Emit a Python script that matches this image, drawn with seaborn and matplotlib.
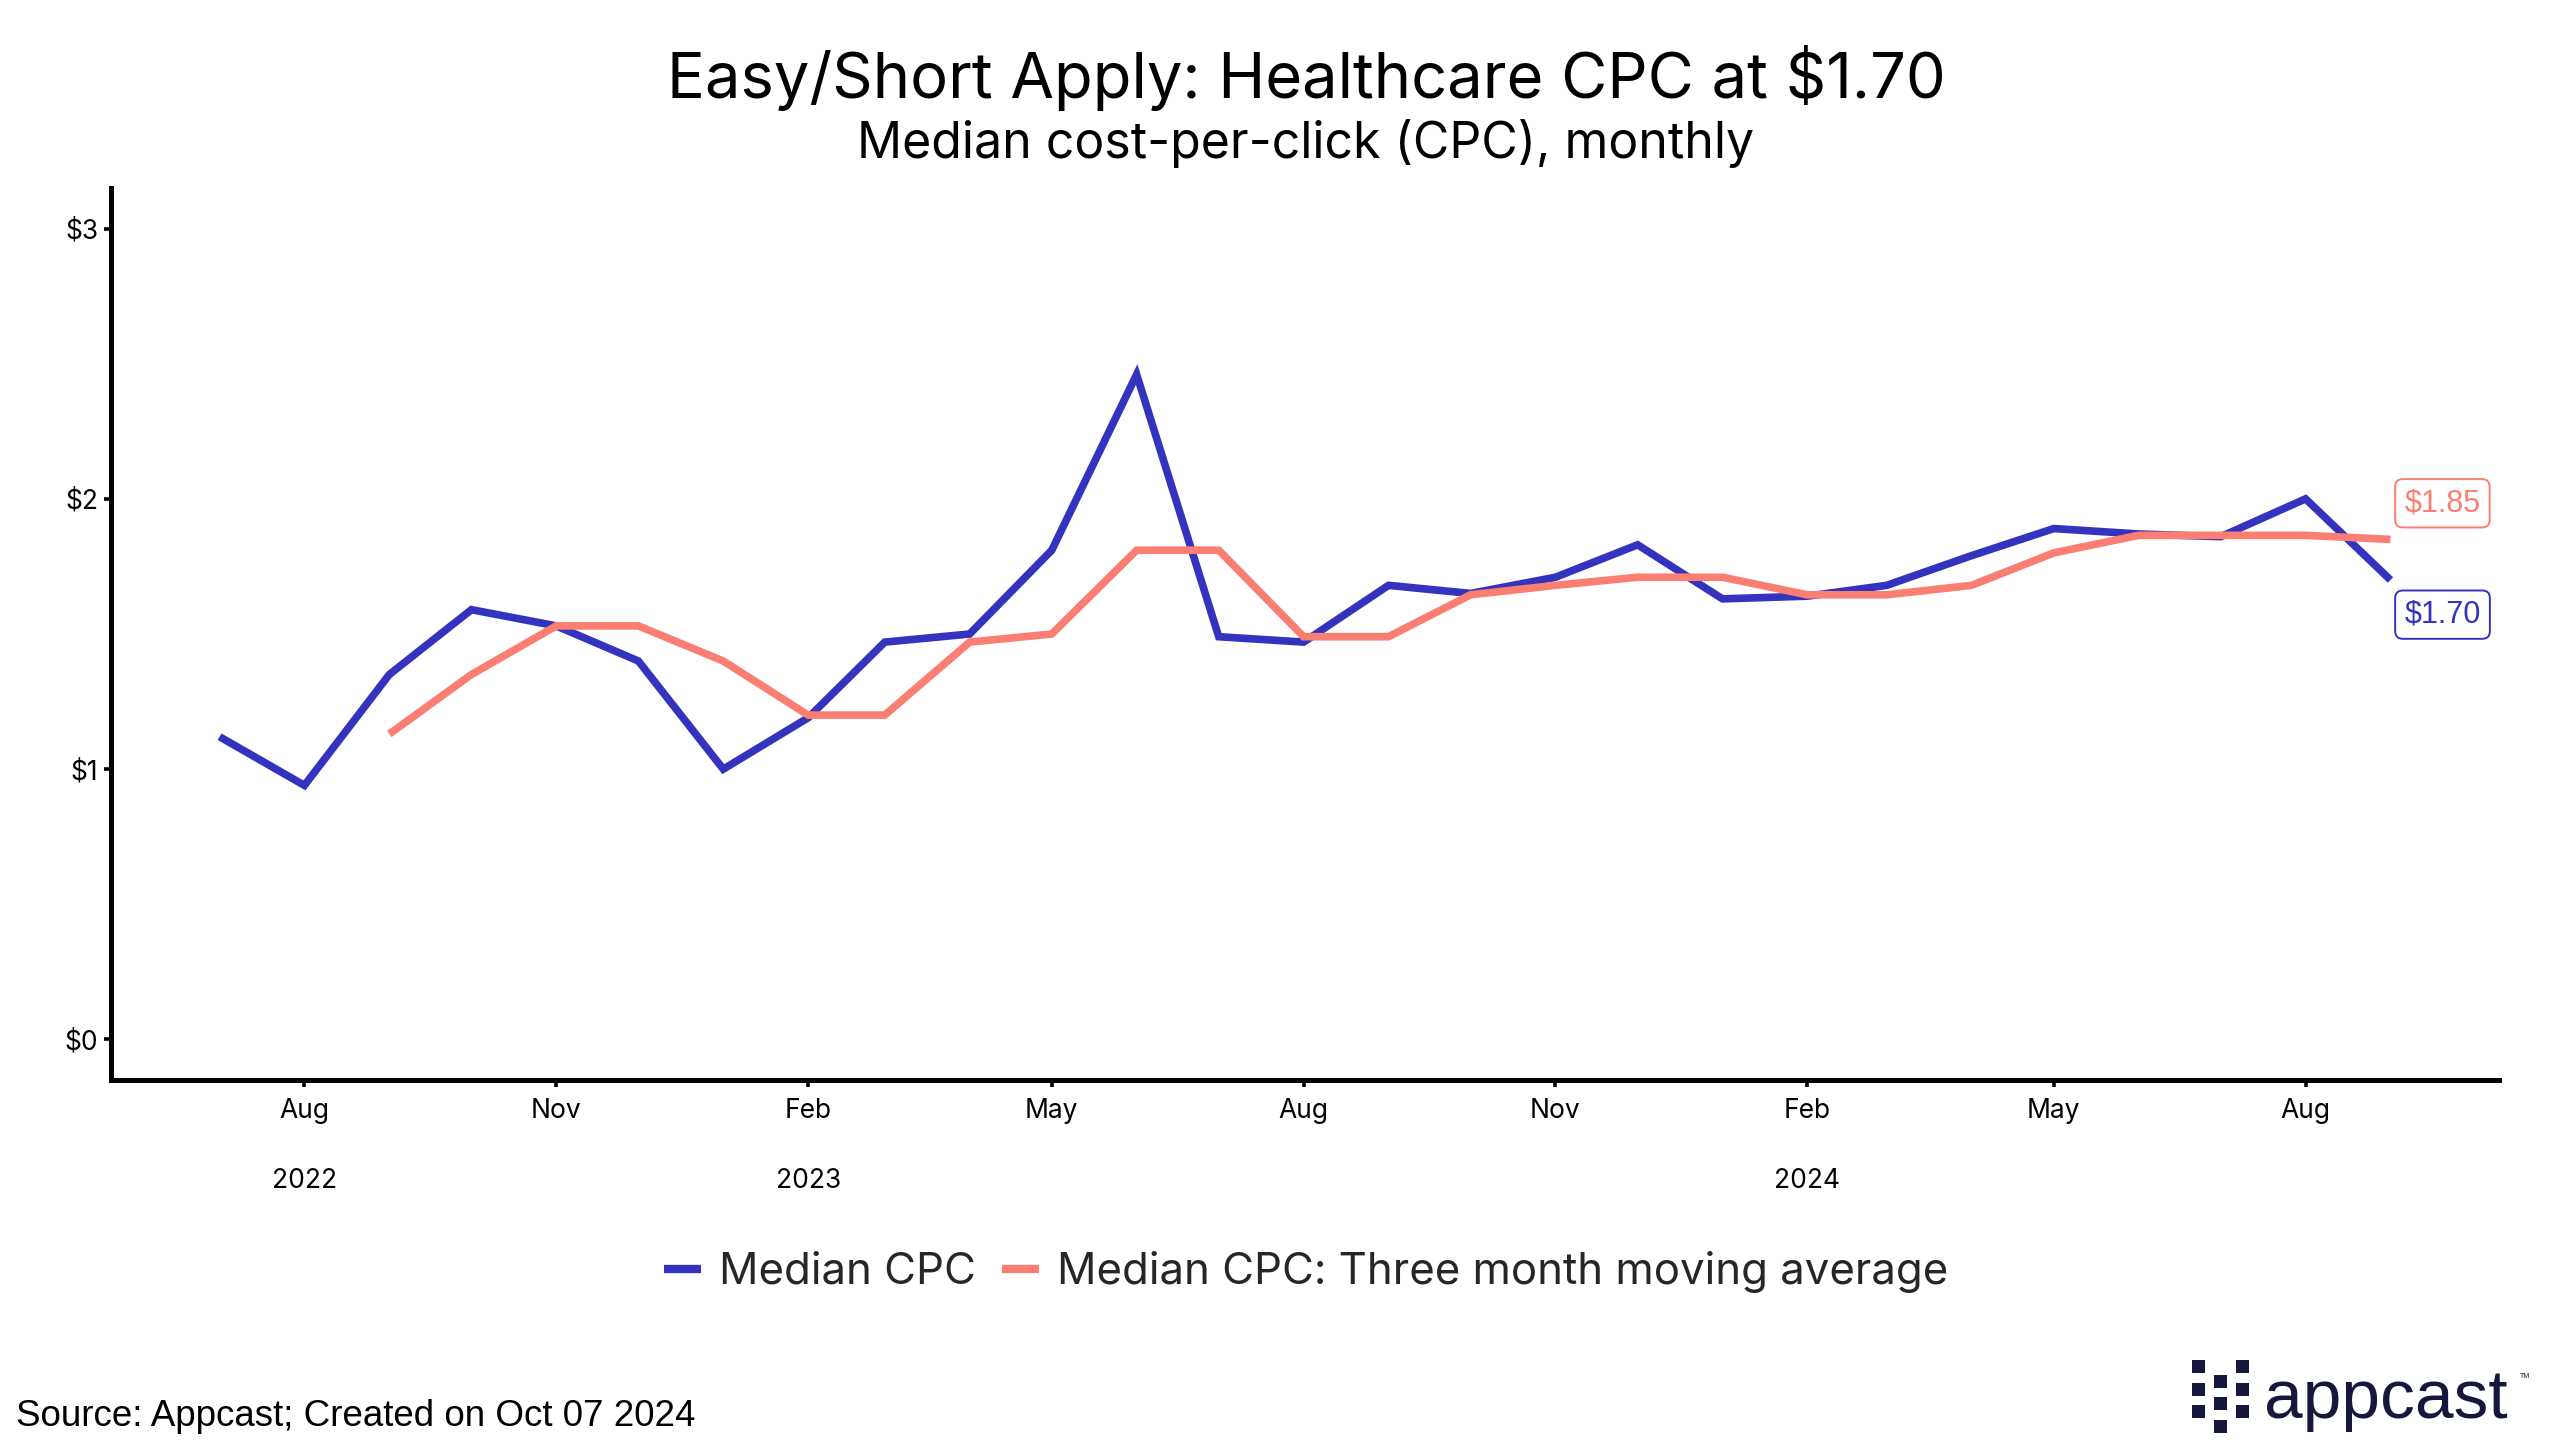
import matplotlib
matplotlib.use("Agg")
import matplotlib.pyplot as plt
from matplotlib.patches import Rectangle
import pandas as pd
import seaborn as sns

# ---------------- data ----------------
months = pd.date_range("2022-07-01", "2024-09-01", freq="MS")
median_cpc = [1.12, 0.94, 1.35, 1.59, 1.53, 1.40, 1.00, 1.19, 1.47, 1.50, 1.81, 2.46,
              1.49, 1.47, 1.68, 1.65, 1.71, 1.83, 1.63, 1.64, 1.68, 1.79, 1.89, 1.87,
              1.86, 2.00, 1.70]
ma_months = months[2:]
moving_avg = [1.13, 1.35, 1.53, 1.53, 1.40, 1.20, 1.20, 1.47, 1.50, 1.81, 1.81, 1.49,
              1.49, 1.645, 1.68, 1.71, 1.71, 1.645, 1.645, 1.68, 1.80, 1.865, 1.865,
              1.865, 1.85]
series_names = ["Median CPC", "Median CPC: Three month moving average"]
tick_months = ["2022-08-01", "2022-11-01", "2023-02-01", "2023-05-01", "2023-08-01",
               "2023-11-01", "2024-02-01", "2024-05-01", "2024-08-01"]
tick_labels = ["Aug", "Nov", "Feb", "May", "Aug", "Nov", "Feb", "May", "Aug"]
year_months = ["2022-08-01", "2023-02-01", "2024-02-01"]
year_labels = ["2022", "2023", "2024"]
y_ticks = [0, 1, 2, 3]
y_labels = ["$0", "$1", "$2", "$3"]
end_labels = ["$1.70", "$1.85"]

title = "Easy/Short Apply: Healthcare CPC at $1.70"
subtitle = "Median cost-per-click (CPC), monthly"
source = "Source: Appcast; Created on Oct 07 2024"

BLUE = "#3333bf"
SALMON = "#fa7f72"
NAVY = "#15173d"

df = pd.concat([
    pd.DataFrame({"date": months, "value": median_cpc, "series": series_names[0]}),
    pd.DataFrame({"date": ma_months, "value": moving_avg, "series": series_names[1]}),
], ignore_index=True)

# ---------------- figure ----------------
sns.set_theme(style="white")
plt.rcParams["font.family"] = ["Inter", "DejaVu Sans"]

W, H = 2560, 1455
fig = plt.figure(figsize=(W / 100, H / 100), dpi=100)
ax = fig.add_axes([111 / W, 1 - 1080 / H, (2499 - 111) / W, (1080 - 188) / H])

sns.lineplot(data=df, x="date", y="value", hue="series", hue_order=series_names,
             palette=[BLUE, SALMON], linewidth=5.5, ax=ax, legend=True)
for ln in ax.get_lines():
    ln.set_solid_capstyle("butt")
    ln.set_solid_joinstyle("miter")

# limits with 5% expansion
span = months[-1] - months[0]
ax.set_xlim(months[0] - span * 0.05, months[-1] + span * 0.05)
ax.set_ylim(-0.15, 3.15)

ax.set_yticks(y_ticks)
ax.set_yticklabels(y_labels)
ax.set_xticks([pd.Timestamp(t) for t in tick_months])
ax.set_xticklabels(tick_labels)
ax.set_xlabel("")
ax.set_ylabel("")

for s in ["top", "right"]:
    ax.spines[s].set_visible(False)
for s in ["left", "bottom"]:
    ax.spines[s].set_color("black")
    ax.spines[s].set_linewidth(3.6)
ax.spines["bottom"].set_capstyle("projecting")
ax.tick_params(axis="both", which="major", length=5, width=2.6, color="black",
               labelsize=19, labelcolor="black", direction="out", left=True, bottom=True)
ax.tick_params(axis="x", pad=8)
ax.tick_params(axis="y", pad=4)
ax.grid(False)

for ym, yl in zip(year_months, year_labels):
    ax.text(pd.Timestamp(ym), -0.1135, yl, transform=ax.get_xaxis_transform(),
            ha="center", va="center", fontsize=19, color="black")

# end labels
last = months[-1]
ax.annotate(end_labels[0], xy=(last, median_cpc[-1]), xytext=(10, -25),
            textcoords="offset points", ha="left", va="center",
            fontsize=22, color=BLUE, family=["Liberation Sans"],
            bbox=dict(boxstyle="round,pad=0.3,rounding_size=0.25", fc="white",
                      ec=BLUE, lw=1.4))
ax.annotate(end_labels[1], xy=(last, moving_avg[-1]), xytext=(10, 26),
            textcoords="offset points", ha="left", va="center",
            fontsize=22, color=SALMON, family=["Liberation Sans"],
            bbox=dict(boxstyle="round,pad=0.3,rounding_size=0.25", fc="white",
                      ec=SALMON, lw=1.4))

# legend
handles, labels = ax.get_legend_handles_labels()
ax.get_legend().remove()
for h in handles:
    h.set_linewidth(6)
fig.legend(handles, labels, loc="center", bbox_to_anchor=(1306 / W, 1 - 1272 / H),
           ncol=2, frameon=False, fontsize=31.5, handlelength=0.85, handletextpad=0.4,
           columnspacing=0.6)

# titles
cx = 1306 / W
fig.text(cx, 1 - 78 / H, title, ha="center", va="center", fontsize=45.5, color="black")
fig.text(cx, 1 - 144 / H, subtitle, ha="center", va="center", fontsize=36, color="black")

# source
fig.text(16 / W, 1 - 1417 / H, source, ha="left", va="center", fontsize=26.5,
         color="black", family=["Liberation Sans"])

# appcast logo (decoration)
sq = 13.3
cols = [2192, 2213.5, 2236]
rows_outer = [1360, 1382.5, 1405]
rows_mid = [1374.5, 1397, 1420]
for cxp, rows in zip(cols, [rows_outer, rows_mid, rows_outer]):
    for ry in rows:
        fig.patches.append(Rectangle((cxp / W, 1 - (ry + sq) / H), sq / W, sq / H,
                                     transform=fig.transFigure, fc=NAVY, ec="none"))
fig.text(2264 / W, 1 - 1418 / H, "appcast", ha="left", va="baseline", fontsize=50,
         color=NAVY, family=["Liberation Sans"])
fig.text(2520 / W, 1 - 1378 / H, "TM", ha="left", va="baseline", fontsize=5,
         color=NAVY, family=["Liberation Sans"])

fig.savefig("out.png", dpi=100, facecolor="white")
